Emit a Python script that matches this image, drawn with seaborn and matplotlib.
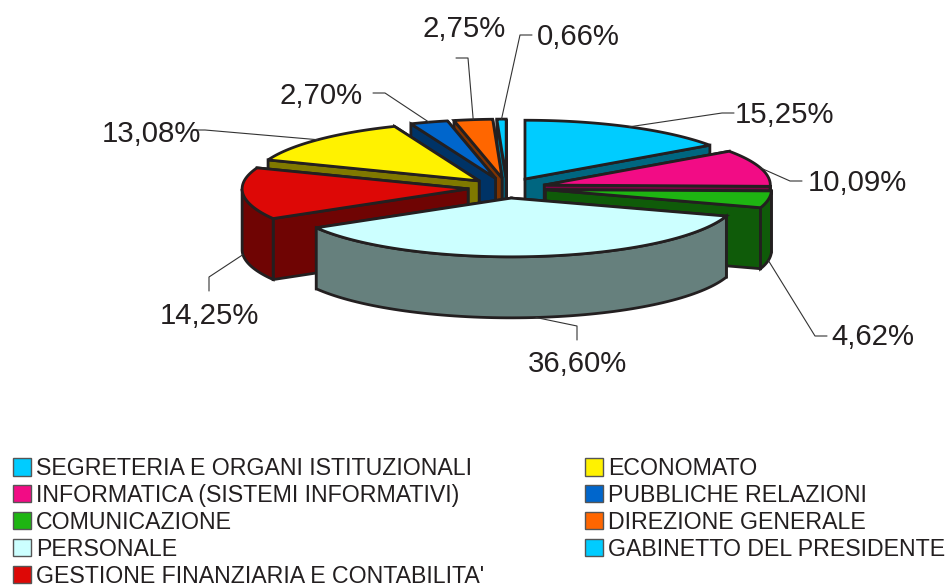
import numpy as np
import matplotlib
matplotlib.use("Agg")
import matplotlib.pyplot as plt
from matplotlib.patches import Patch
import seaborn as sns

categories = ["SEGRETERIA E ORGANI ISTITUZIONALI", "INFORMATICA (SISTEMI INFORMATIVI)",
              "COMUNICAZIONE", "PERSONALE", "GESTIONE FINANZIARIA E CONTABILITA'",
              "ECONOMATO", "PUBBLICHE RELAZIONI", "DIREZIONE GENERALE",
              "GABINETTO DEL PRESIDENTE"]
values = [15.25, 10.09, 4.62, 36.60, 14.25, 13.08, 2.70, 2.75, 0.66]
colors = ["#00CCFF", "#F20C85", "#1EB512", "#CCFFFF", "#DD0806",
          "#FFF200", "#0066CC", "#FF6600", "#00CCFF"]

# where the labels and the elbow of each leader sit
label_xy = [(785, 115), (857, 183), (873, 337), (577, 364), (209, 316),
            (151, 134), (321, 96), (464, 29), (578, 37)]
elbow_xy = [(722, 113), (790, 181), (815, 336), (577, 326), (209, 277),
            (205, 130), (385, 93), (468, 58), (520, 35)]

sns.set_theme(style="white")
plt.rcParams["font.family"] = ["Liberation Sans", "DejaVu Sans"]
palette = sns.color_palette(colors)
INK = "#231F20"

# 3d pie set up
cx, cy = 507, 188
rx, squash = 226, 0.26
explode = 39
depth = 61


def arc(x0, y0, t0, t1, dy=0):
    t = np.linspace(t0, t1, 80)
    return np.column_stack([x0 + rx * np.sin(t), y0 - rx * squash * np.cos(t) + dy])


fig = plt.figure(figsize=(9.49, 5.85), dpi=100)
ax = fig.add_axes([0, 0, 1, 1])
ax.set_xlim(0, 949)
ax.set_ylim(585, 0)
ax.axis("off")

fracs = np.array(values) / sum(values)
ends = np.cumsum(fracs) * 2 * np.pi
starts = ends - fracs * 2 * np.pi
mids = (starts + ends) / 2
tips_x = cx + explode * np.sin(mids)
tips_y = cy - explode * squash * np.cos(mids)

edge = dict(edgecolor=INK, linewidth=2.0, joinstyle="miter")
# back slices first
for i in np.argsort(-np.cos(mids)):
    a, b = starts[i], ends[i]
    x0, y0 = tips_x[i], tips_y[i]
    dark = tuple(c * 0.5 for c in palette[i])
    if i == 3:
        dark = (0.40, 0.50, 0.49)
    # the two cut faces, the hidden one goes down first
    order = (a, b) if np.sin(mids[i]) > 0 else (b, a)
    for t in order:
        p = arc(x0, y0, t, t, 0)[0]
        ax.fill([x0, p[0], p[0], x0], [y0, p[1], p[1] + depth, y0 + depth],
                facecolor=dark, **edge)
    # outer rim, only the part facing the viewer
    lo, hi = max(a, np.pi / 2), min(b, 3 * np.pi / 2)
    if hi > lo:
        up = arc(x0, y0, lo, hi)
        down = arc(x0, y0, hi, lo, depth)
        rim = np.vstack([up, down])
        ax.fill(rim[:, 0], rim[:, 1], facecolor=dark, **edge)
    top = np.vstack([[x0, y0], arc(x0, y0, a, b)])
    ax.fill(top[:, 0], top[:, 1], facecolor=palette[i], **edge)

# labels and leaders
for i, v in enumerate(values):
    anchor = arc(tips_x[i], tips_y[i], mids[i], mids[i])[0]
    if np.cos(mids[i]) < 0.0:
        anchor[1] += depth
    ex, ey = elbow_xy[i]
    lx, ly = label_xy[i]
    stub = ex + 12 if lx > ex else ex - 12
    if abs(lx - ex) < 3:
        xs, ys = [anchor[0], ex, ex], [anchor[1], ey, ey + 14 if ly > ey else ey - 14]
    else:
        xs, ys = [anchor[0], ex, stub], [anchor[1], ey, ey]
    ax.plot(xs, ys, color="#333333", lw=0.8, zorder=1 if i in (5, 6, 7, 8) else 5)
    ax.text(lx, ly, f"{v:.2f}%".replace(".", ","), fontsize=21.2, color=INK,
            ha="center", va="center")

handles = [Patch(facecolor=palette[i], edgecolor="#555555", linewidth=1.0, label=categories[i])
           for i in range(len(categories))]
ax.legend(handles=handles, ncol=2, loc="upper left", bbox_to_anchor=(0.0137, 0.219),
          bbox_transform=fig.transFigure, frameon=False, fontsize=16.7,
          labelcolor=INK, handlelength=0.78, handleheight=0.78, handletextpad=0.22,
          labelspacing=0.17, columnspacing=4.33, borderpad=0, borderaxespad=0)

plt.savefig("out.png", dpi=100)
